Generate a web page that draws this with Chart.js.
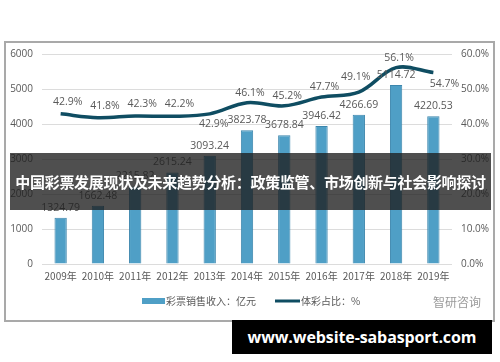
<!DOCTYPE html>
<html>
<head>
<meta charset="utf-8">
<script src="https://cdn.jsdelivr.net/npm/chart.js@4/dist/chart.umd.min.js"></script>
<style>
  html,body{margin:0;padding:0;background:#fff;}
  #wrap{position:relative;width:500px;height:362px;overflow:hidden;font-family:"Noto Sans CJK SC",sans-serif;}
  #frame{position:absolute;left:4px;top:41px;width:487px;height:277px;border:2px solid #a9a9a9;}
  #banner{position:absolute;left:10px;top:153px;width:481px;height:57px;background:rgba(30,30,30,0.78);
    color:#fff;font-weight:bold;font-size:15px;line-height:57px;text-align:center;white-space:nowrap;letter-spacing:-0.3px;}
  #site{position:absolute;left:232px;top:320px;width:260px;height:34px;background:#000;color:#fff;white-space:nowrap;
    font-family:"Open Sans","DejaVu Sans",sans-serif;font-weight:bold;font-size:16px;line-height:34px;text-align:center;letter-spacing:-0.1px;}
  #mark{position:absolute;left:433px;top:293px;color:#9a9a9a;font-size:12px;}
  canvas{position:absolute;left:0;top:0;}
</style>
</head>
<body>
<div id="wrap">
  <div id="frame"></div>
  <canvas id="c" width="500" height="362"></canvas>
  <div id="mark">智研咨询</div>
  <div id="banner">中国彩票发展现状及未来趋势分析：政策监管、市场创新与社会影响探讨</div>
  <div id="site">www.website-sabasport.com</div>
</div>
<script>
// data
const years = ['2009年','2010年','2011年','2012年','2013年','2014年','2015年','2016年','2017年','2018年','2019年'];
const sales = [1324.79, 1662.48, 2215.82, 2615.24, 3093.24, 3823.78, 3678.84, 3946.42, 4266.69, 5114.72, 4220.53];
const share = [42.9, 41.8, 42.3, 42.2, 42.9, 46.1, 45.2, 47.7, 49.1, 56.1, 54.7];
const leftTicks = [0, 1000, 2000, 3000, 4000, 5000, 6000];
const rightTicks = [0, 10, 20, 30, 40, 50, 60];
const salesLabel = '彩票销售收入：亿元';
const shareLabel = '体彩占比：%';

const GREY = '#595959';
const BAR = '#4f9fc6';
const LINE = '#0f4d62';

// where each % label sits relative to its point
const linePlace = ['ar','ar','ar','ar','b','a','a','a','al','a','br'];

const labelsPlugin = {
  id: 'labels',
  afterDatasetsDraw(chart){
    const ctx = chart.ctx;
    ctx.save();
    ctx.fillStyle = GREY;
    ctx.font = '10.5px "Open Sans","Noto Sans CJK SC",sans-serif';
    ctx.textAlign = 'center';
    ctx.textBaseline = 'middle';
    chart.getDatasetMeta(0).data.forEach((b,i)=>{
      ctx.fillText(sales[i].toFixed(2), b.x, b.y - 10);
    });
    chart.getDatasetMeta(1).data.forEach((p,i)=>{
      const t = share[i].toFixed(1) + '%';
      const pl = linePlace[i];
      let x = p.x, y = p.y - 12;
      if(pl==='ar'){ x += 7; }
      if(pl==='al'){ x -= 3; y = p.y - 15; }
      if(pl==='b'){ x += 4; y = p.y + 10; }
      if(pl==='br'){ x += 11; y = p.y + 11; }
      if(pl==='a'){ x += 3; y = p.y - 10; }
      ctx.fillText(t, x, y);
    });
    // legend
    const ly = 301;
    ctx.fillStyle = BAR;
    ctx.fillRect(142, ly-3, 23, 6);
    ctx.fillStyle = GREY;
    ctx.font = '10px "Noto Sans CJK SC",sans-serif';
    ctx.textAlign = 'left';
    ctx.fillText(salesLabel, 166, ly);
    ctx.strokeStyle = LINE;
    ctx.lineWidth = 3;
    ctx.beginPath(); ctx.moveTo(275, ly); ctx.lineTo(300, ly); ctx.stroke();
    ctx.fillText(shareLabel, 301, ly);
    ctx.restore();
  }
};

new Chart(document.getElementById('c'), {
  data: {
    labels: years,
    datasets: [
      { type:'bar', label:salesLabel, data:sales, yAxisID:'y', backgroundColor:BAR,
        borderColor:'#3c86ad', borderWidth:1, barPercentage:0.33, categoryPercentage:1, order:2 },
      { type:'line', label:shareLabel, data:share, yAxisID:'y1', borderColor:LINE, borderWidth:3.5,
        pointRadius:0, tension:0.35, fill:false, order:1 }
    ]
  },
  options: {
    responsive:false,
    animation:false,
    layout:{ padding:{ top:54, bottom:68, left:0, right:0 } },
    plugins:{ legend:{ display:false }, tooltip:{ enabled:false } },
    scales:{
      x:{
        grid:{ display:false, drawTicks:false },
        border:{ display:false },
        ticks:{ color:GREY, font:{ size:10, family:'"Noto Sans CJK SC",sans-serif' }, padding:6, maxRotation:0 },
        afterFit(s){ s.height = 30; }
      },
      y:{
        position:'left', min:0, max:6000,
        afterBuildTicks(s){ s.ticks = leftTicks.map(v=>({value:v})); },
        grid:{ color:'#dcdcdc', drawTicks:false },
        border:{ display:false },
        ticks:{ color:GREY, font:{ size:10, family:'"Open Sans",sans-serif' }, padding:9,
          callback:v=>String(v) },
        afterFit(s){ s.width = 42; }
      },
      y1:{
        position:'right', min:0, max:60,
        afterBuildTicks(s){ s.ticks = rightTicks.map(v=>({value:v})); },
        grid:{ display:false, drawTicks:false },
        border:{ display:false },
        ticks:{ color:GREY, font:{ size:10, family:'"Open Sans",sans-serif' }, padding:9,
          callback:v=>v.toFixed(1)+'%' },
        afterFit(s){ s.width = 48; }
      }
    }
  },
  plugins:[labelsPlugin]
});
</script>
</body>
</html>
